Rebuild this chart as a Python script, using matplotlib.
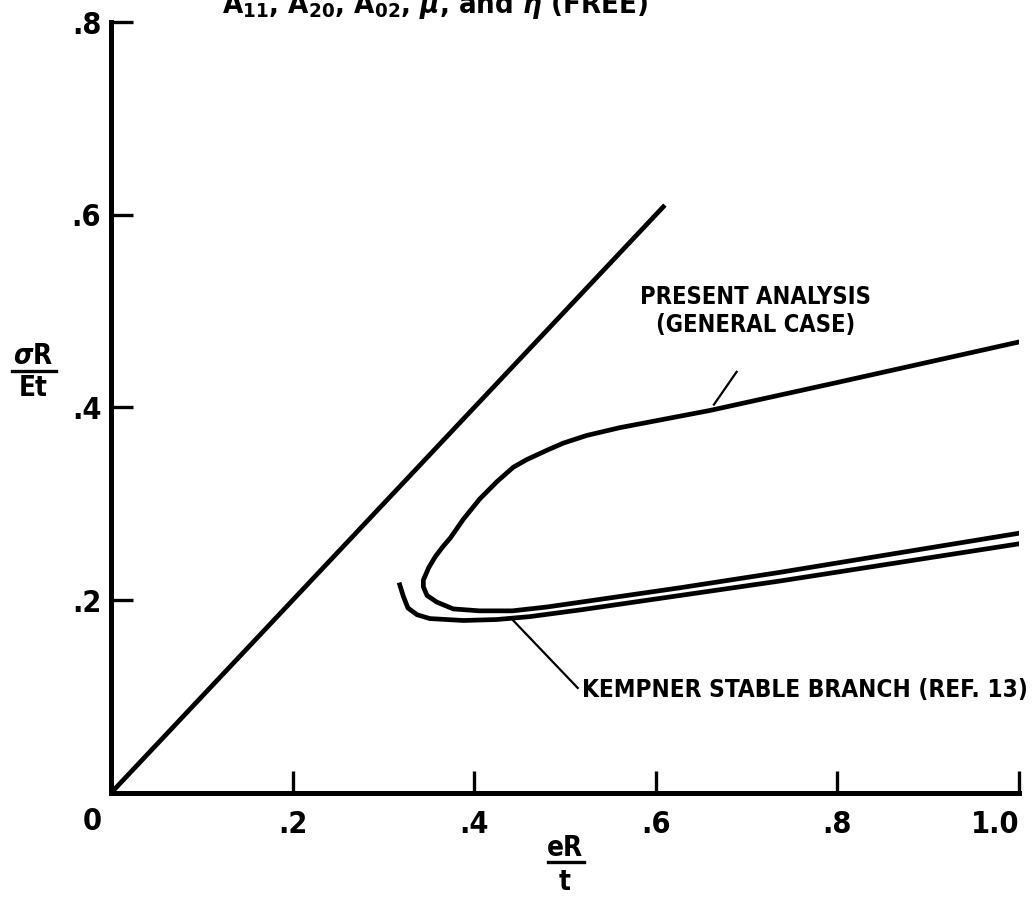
import matplotlib
matplotlib.use("Agg")
import matplotlib.pyplot as plt
from matplotlib.lines import Line2D

plt.rcParams['font.family'] = ['DejaVu Sans']
plt.rcParams['font.stretch'] = 'condensed'
plt.rcParams['font.weight'] = 'bold'

# straight line sigma R / E t = e R / t
line_x = [0.0, 0.61]
line_y = [0.0, 0.61]

# present analysis (general case), traced from the upper right round the nose
present_x = [1.0, 0.80, 0.66, 0.560, 0.524, 0.498, 0.481, 0.458, 0.443, 0.425,
             0.406, 0.388, 0.374, 0.365, 0.357, 0.350, 0.344, 0.344, 0.348, 0.359,
             0.377, 0.406, 0.442, 0.480, 0.517, 0.627, 0.737, 1.003]
present_y = [0.468, 0.426, 0.397, 0.379, 0.371, 0.363, 0.356, 0.346, 0.338, 0.323,
             0.305, 0.284, 0.265, 0.255, 0.245, 0.234, 0.221, 0.214, 0.205, 0.198,
             0.191, 0.189, 0.189, 0.193, 0.198, 0.213, 0.229, 0.270]

# Kempner stable branch (ref. 13)
kempner_x = [0.318, 0.322, 0.327, 0.337, 0.351, 0.388, 0.425, 0.461, 0.517, 0.627, 0.737, 1.003]
kempner_y = [0.216, 0.204, 0.192, 0.185, 0.181, 0.179, 0.180, 0.183, 0.190, 0.205, 0.220, 0.259]

xticks = [0.2, 0.4, 0.6, 0.8, 1.0]
xtick_labels = ['.2', '.4', '.6', '.8', '1.0']
yticks = [0.2, 0.4, 0.6, 0.8]
ytick_labels = ['.2', '.4', '.6', '.8']

fig = plt.figure(figsize=(10.32, 8.97), dpi=100)
ax = fig.add_axes([111 / 1032, 1 - 793 / 897, (1019 - 111) / 1032, (793 - 22) / 897])

ax.plot(line_x, line_y, color='black', lw=3.4, solid_capstyle='butt')
ax.plot(present_x, present_y, color='black', lw=3.4)
ax.plot(kempner_x, kempner_y, color='black', lw=3.4)

ax.set_xlim(0, 1.0)
ax.set_ylim(0, 0.8)
ax.spines['top'].set_visible(False)
ax.spines['right'].set_visible(False)
ax.spines['left'].set_linewidth(3.6)
ax.spines['bottom'].set_linewidth(3.6)

ax.set_xticks(xticks)
ax.set_xticklabels(xtick_labels)
ax.set_yticks(yticks)
ax.set_yticklabels(ytick_labels)
ax.tick_params(direction='in', length=16, width=2.4, labelsize=22, pad=12)
ax.tick_params(axis='y', pad=7)
ax.get_xticklabels()[-1].set_horizontalalignment('right')

ax.text(-0.021, -0.030, '0', ha='center', va='center', fontsize=22)

# leader lines and notes
ax.plot([0.664, 0.689], [0.403, 0.437], color='black', lw=1.6)
ax.text(0.710, 0.500, 'PRESENT ANALYSIS\n(GENERAL CASE)', ha='center', va='center',
        fontsize=17, linespacing=1.2)
ax.plot([0.443, 0.514], [0.179, 0.109], color='black', lw=1.6)
ax.text(0.519, 0.107, 'KEMPNER STABLE BRANCH (REF. 13)', ha='left', va='center', fontsize=17.5)

# axis labels as stacked fractions
fig.text(33 / 1032, 1 - 356 / 897, r'$\sigma$R', ha='center', va='center', fontsize=20)
fig.add_artist(Line2D([12 / 1032, 56 / 1032], [1 - 371 / 897, 1 - 371 / 897],
                      color='black', lw=2.4, transform=fig.transFigure))
fig.text(33 / 1032, 1 - 388 / 897, 'Et', ha='center', va='center', fontsize=20)

fig.text(565 / 1032, 1 - 848 / 897, 'eR', ha='center', va='center', fontsize=20)
fig.add_artist(Line2D([548 / 1032, 584 / 1032], [1 - 862 / 897, 1 - 862 / 897],
                      color='black', lw=2.4, transform=fig.transFigure))
fig.text(565 / 1032, 1 - 882 / 897, 't', ha='center', va='center', fontsize=20)

# title, cut off at the top edge of the page
fig.text(222 / 1032, 1 - 13 / 897,
         r'A$_{11}$, A$_{20}$, A$_{02}$, $\mu$, and $\eta$ (FREE)',
         ha='left', va='baseline', fontsize=21)

fig.savefig('out.png', dpi=100)
